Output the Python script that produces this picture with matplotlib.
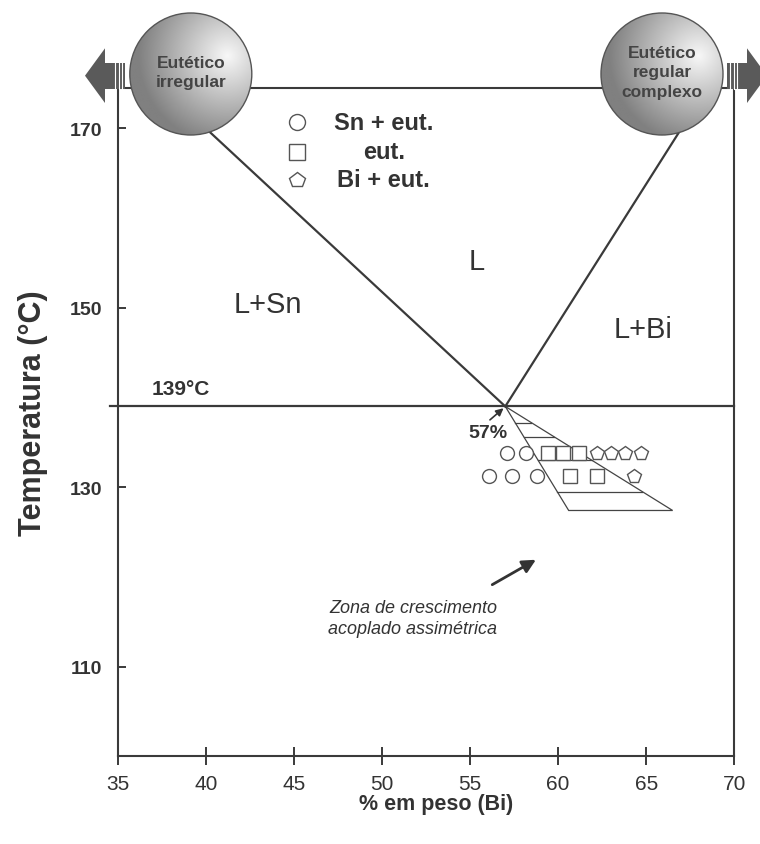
import numpy as np
import matplotlib
matplotlib.use('Agg')
import matplotlib.pyplot as plt
from matplotlib.patches import Polygon, Circle

plt.rcParams['font.family'] = ['Liberation Sans', 'DejaVu Sans']
NARROW = ['Liberation Sans Narrow', 'Liberation Sans', 'DejaVu Sans']
INK = '#3a3a3a'

# phase diagram Sn-Bi (wt% Bi, temperature in C)
eut_x = 57.0
eut_t = 139.0
liq_sn_x = [40.0, eut_x]
liq_sn_t = [170.0, eut_t]
liq_bi_x = [67.1, eut_x]
liq_bi_t = [170.3, eut_t]

# coupled growth zone
zone_x = [57.0, 60.6, 66.5]
zone_t = [139.0, 127.4, 127.4]
hatch_t = [137.2, 135.6, 133.0, 129.5]

# observed microstructures
sn_x = [57.1, 58.2, 56.1, 57.4, 58.8]
sn_t = [133.8, 133.8, 131.2, 131.2, 131.2]
eu_x = [59.4, 60.3, 61.2, 60.7, 62.2]
eu_t = [133.8, 133.8, 133.8, 131.2, 131.2]
bi_x = [62.2, 63.0, 63.8, 64.7, 64.3]
bi_t = [133.8, 133.8, 133.8, 133.8, 131.2]

legend_labels = ['Sn + eut.', 'eut.', 'Bi + eut.']
legend_markers = ['o', 's', 'p']

xticks = [35, 40, 45, 50, 55, 60, 65, 70]
yticks = [110, 130, 150, 170]

W, H = 760, 845
fig = plt.figure(figsize=(W / 100, H / 100), dpi=100)
ax = fig.add_axes([117.7 / W, 1 - 757.3 / H, (734.3 - 117.7) / W, (757.3 - 89.3) / H])
ax.set_xlim(35, 70)
ax.set_ylim(100, 174.46)

for s in ax.spines.values():
    s.set_color(INK)
    s.set_linewidth(1.5)

ax.set_xticks(xticks)
ax.set_yticks(yticks)
ax.tick_params(axis='y', direction='in', length=6, width=1.4, pad=11,
               labelsize=14, color=INK, labelcolor='#333333')
ax.tick_params(axis='x', direction='inout', length=13, width=1.4, pad=6,
               labelsize=15, color=INK, labelcolor='#333333')
for lbl in ax.get_yticklabels():
    lbl.set_fontweight('bold')
for lbl in ax.get_xticklabels():
    lbl.set_family(NARROW)

# liquidus and eutectic lines
ax.plot(liq_sn_x, liq_sn_t, color=INK, lw=1.6)
ax.plot(liq_bi_x, liq_bi_t, color=INK, lw=1.6)
ax.plot([34.55, 70], [eut_t, eut_t], color=INK, lw=1.6, clip_on=False)

# coupled zone
ax.add_patch(Polygon(list(zip(zone_x, zone_t)), closed=True, fill=False,
                     edgecolor='#444444', lw=0.9))
for t in hatch_t:
    xl = np.interp(t, [zone_t[1], zone_t[0]], [zone_x[1], zone_x[0]])
    xr = np.interp(t, [zone_t[2], zone_t[0]], [zone_x[2], zone_x[0]])
    ax.plot([xl, xr], [t, t], color='#444444', lw=0.9)

mk = dict(ls='none', mfc='white', mec='#555555', mew=1.0, ms=10, zorder=4)
ax.plot(sn_x, sn_t, marker='o', **mk)
ax.plot(eu_x, eu_t, marker='s', **mk)
ax.plot(bi_x, bi_t, marker='p', **mk)

# legend keys
leg_t = [170.7, 167.36, 164.24]
for m, lab, t in zip(legend_markers, legend_labels, leg_t):
    ax.plot([45.18], [t], marker=m, ls='none', mfc='white', mec='#555555',
            mew=1.0, ms=11.5)
    ax.text(50.1, t, lab, ha='center', va='center', fontsize=17,
            fontweight='bold', color='#333333')

# region labels
ax.text(55.39, 155.24, 'L', ha='center', va='center', fontsize=21, color='#333333')
ax.text(43.5, 150.45, 'L+Sn', ha='center', va='center', fontsize=21, color='#333333')
ax.text(64.81, 147.6, 'L+Bi', ha='center', va='center', fontsize=21, color='#333333')
ax.text(38.59, 141.0, '139°C', ha='center', va='center', fontsize=15,
        fontweight='bold', color='#333333')
ax.text(56.02, 136.05, '57%', ha='center', va='center', fontsize=14,
        fontweight='bold', color='#333333')
ax.annotate('', xy=(56.9, 138.8), xytext=(56.13, 137.5),
            arrowprops=dict(arrowstyle='-|>', color='#333333', lw=1.2,
                            mutation_scale=11, shrinkA=0, shrinkB=0))
ax.annotate('', xy=(58.74, 121.91), xytext=(56.26, 119.13),
            arrowprops=dict(arrowstyle='-|>', color='#333333', lw=2,
                            mutation_scale=20, shrinkA=0, shrinkB=0))
ax.text(51.76, 115.4, 'Zona de crescimento\nacoplado assimétrica', ha='center',
        va='center', fontsize=13, style='italic', color='#333333', linespacing=1.3)

fig.text(33 / W, 1 - 413 / H, 'Temperatura (°C)', rotation=90, ha='center',
         va='center', fontsize=22, fontweight='bold', color='#333333')
fig.text(436 / W, 1 - 805 / H, '% em peso (Bi)', ha='center', va='center',
         fontsize=15.5, fontweight='bold', color='#333333', family=NARROW)

# decorations in pixel space: bubbles and arrows
ov = fig.add_axes([0, 0, 1, 1], zorder=5)
ov.set_xlim(0, W)
ov.set_ylim(H, 0)
ov.axis('off')
ov.patch.set_visible(False)

arrow_l = [(85, 76.7), (105, 49.3), (105, 64), (125, 64), (125, 90), (105, 90), (105, 104)]
arrow_r = [(767, 76.7), (747, 49.3), (747, 64), (727, 64), (727, 90), (747, 90), (747, 104)]
for pts, stripes in ((arrow_l, (115, 118.5, 122)), (arrow_r, (730, 733.5, 737))):
    ov.add_patch(Polygon(pts, closed=True, facecolor='#5a5a5a', edgecolor='none'))
    for sx in stripes:
        ov.plot([sx, sx], [64, 90], color='white', lw=0.8)

g = np.linspace(-1, 1, 240)
GX, GY = np.meshgrid(g, g)
shade = np.clip(0.97 - 0.32 * np.hypot(GX - 0.6, GY + 0.3), 0.5, 1)

bubbles = [(190.8, 75, 'Eutético\nirregular'), (662, 75, 'Eutético\nregular\ncomplexo')]
for cx, cy, txt in bubbles:
    r = 61
    im = ov.imshow(shade, cmap='gray', vmin=0, vmax=1, extent=(cx - r, cx + r, cy + r, cy - r),
                   aspect='auto', interpolation='bilinear', zorder=2)
    c = Circle((cx, cy), r, transform=ov.transData, facecolor='none')
    im.set_clip_path(c)
    ov.add_patch(Circle((cx, cy), r, facecolor='none', edgecolor='#555555', lw=1.0, zorder=3))
    ov.text(cx, cy - 2, txt, ha='center', va='center', fontsize=12.5, fontweight='bold',
            color='#444444', linespacing=1.35, zorder=4)
ov.set_xlim(0, W)
ov.set_ylim(H, 0)

fig.savefig('out.png', dpi=100)
